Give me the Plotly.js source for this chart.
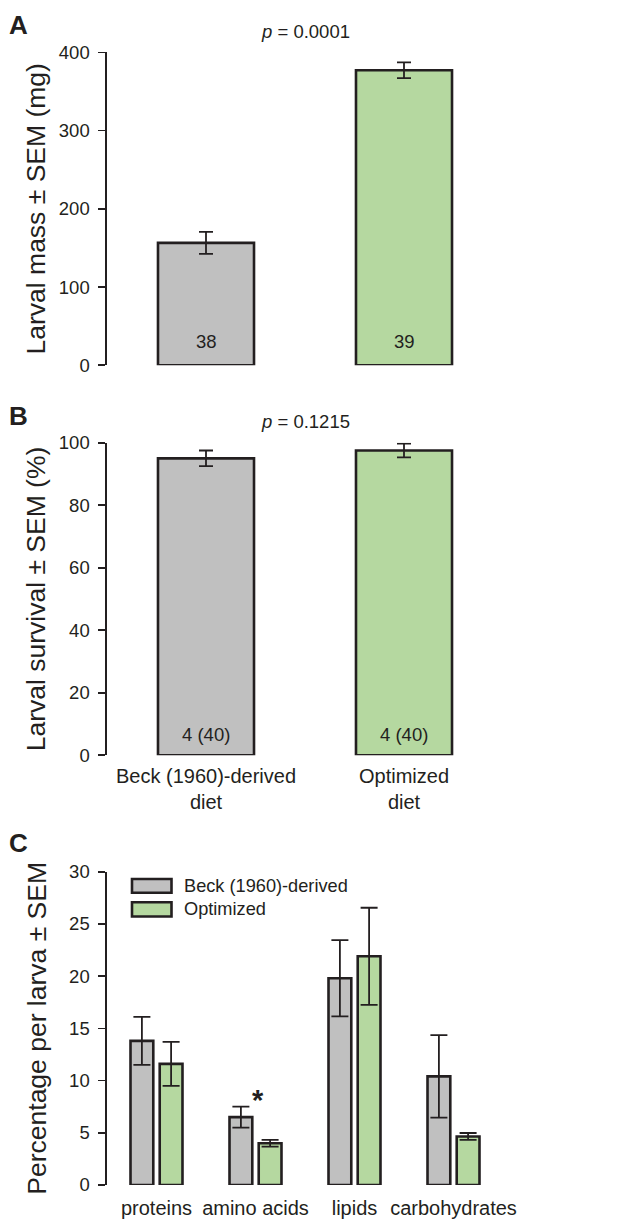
<!DOCTYPE html>
<html>
<head>
<meta charset="utf-8">
<script src="https://cdn.plot.ly/plotly-3.0.1.min.js"></script>
<style>
  html, body { margin: 0; padding: 0; background: #ffffff; }
  #fig { width: 619px; height: 1220px; }
</style>
</head>
<body>
<div id="fig"></div>
<script>
// Diet groups (panels A and B)
const dietGroups = ['Beck (1960)-derived<br>diet', 'Optimized<br>diet'];

// A: larval mass (mg)
const massMean = [156.5, 377];
const massSem = [14, 10];
const massN = ['38', '39'];
const massP = '0.0001';

// B: larval survival (%)
const survMean = [95.0, 97.5];
const survSem = [2.5, 2.2];
const survN = ['4 (40)', '4 (40)'];
const survP = '0.1215';

// C: body composition, percentage per larva
const nutrients = ['proteins', 'amino acids', 'lipids', 'carbohydrates'];
const seriesNames = ['Beck (1960)-derived', 'Optimized'];
const beckPct = [13.8, 6.5, 19.8, 10.4];
const beckSem = [2.3, 1.0, 3.65, 3.95];
const optPct = [11.6, 4.0, 21.9, 4.65];
const optSem = [2.1, 0.33, 4.65, 0.33];
const significant = ['amino acids'];

const INK = '#231f20';
const GRAY = '#c0c0c0';
const GREEN = '#b5d8a0';
const FONT = 'Liberation Sans, Arial, Helvetica, sans-serif';

const PAGE_W = 619, PAGE_H = 1220;
const PLOT_L = 107, PLOT_R = 503;
const px2x = px => (px - PLOT_L) / (PLOT_R - PLOT_L);
const px2y = py => 1 - py / PAGE_H;

function errBar(arr, w) {
  return { type: 'data', array: arr, visible: true, color: INK, thickness: 1.8, width: w };
}

const traces = [
  {
    type: 'bar', x: dietGroups, y: massMean, xaxis: 'x', yaxis: 'y',
    width: 0.485,
    marker: { color: [GRAY, GREEN], line: { color: INK, width: 2.6 } },
    error_y: errBar(massSem, 7), hoverinfo: 'skip', showlegend: false
  },
  {
    type: 'bar', x: dietGroups, y: survMean, xaxis: 'x2', yaxis: 'y2',
    width: 0.485,
    marker: { color: [GRAY, GREEN], line: { color: INK, width: 2.6 } },
    error_y: errBar(survSem, 7), hoverinfo: 'skip', showlegend: false
  },
  {
    type: 'bar', name: seriesNames[0], x: nutrients, y: beckPct, xaxis: 'x3', yaxis: 'y3',
    marker: { color: GRAY, line: { color: INK, width: 2.6 } },
    error_y: errBar(beckSem, 8.5), hoverinfo: 'skip', showlegend: false
  },
  {
    type: 'bar', name: seriesNames[1], x: nutrients, y: optPct, xaxis: 'x3', yaxis: 'y3',
    marker: { color: GREEN, line: { color: INK, width: 2.6 } },
    error_y: errBar(optSem, 8.5), hoverinfo: 'skip', showlegend: false
  }
];

function yAxis(domain, range, dtick, title, standoff, anchor) {
  return {
    domain: domain, range: range, dtick: dtick, tick0: 0, anchor: anchor,
    showgrid: false, zeroline: false, showline: true,
    linecolor: INK, linewidth: 1.6,
    ticks: 'outside', ticklen: 7, tickwidth: 1.6, tickcolor: INK,
    ticklabelstandoff: 5,
    tickfont: { family: FONT, size: 18.5, color: INK },
    title: { text: title, font: { family: FONT, size: 26.5, color: INK }, standoff: standoff },
    fixedrange: true
  };
}

function xAxis(range, anchor, showLabels, labelGap) {
  return {
    domain: [0, 1], range: range, anchor: anchor, type: 'category',
    showgrid: false, zeroline: false, showline: false, ticks: '',
    showticklabels: showLabels, ticklabelstandoff: labelGap,
    tickfont: { family: FONT, size: 20, color: INK },
    fixedrange: true
  };
}

const annotations = [];

// panel letters
[['A', 25], ['B', 416.5], ['C', 843]].forEach(([t, py]) => {
  annotations.push({
    text: '<b>' + t + '</b>', xref: 'paper', yref: 'paper',
    x: px2x(7), y: px2y(py), xanchor: 'left', yanchor: 'middle', showarrow: false,
    font: { family: FONT, size: 26, color: INK }
  });
});

// p-values
[[massP, 'x', 31], [survP, 'x2', 421.7]].forEach(([p, xr, py]) => {
  annotations.push({
    text: '<i>p</i> = ' + p, xref: xr, yref: 'paper', x: 0.5, y: px2y(py),
    xanchor: 'center', yanchor: 'middle', showarrow: false,
    font: { family: FONT, size: 18.5, color: INK }
  });
});

// sample sizes inside the bars
massN.forEach((n, i) => annotations.push({
  text: n, xref: 'x', yref: 'y', x: dietGroups[i], y: 0, yshift: 24,
  xanchor: 'center', yanchor: 'middle', showarrow: false,
  font: { family: FONT, size: 18.5, color: INK }
}));
survN.forEach((n, i) => annotations.push({
  text: n, xref: 'x2', yref: 'y2', x: dietGroups[i], y: 0, yshift: 21,
  xanchor: 'center', yanchor: 'middle', showarrow: false,
  font: { family: FONT, size: 18.5, color: INK }
}));

// significance marker
significant.forEach(cat => {
  const i = nutrients.indexOf(cat);
  const top = Math.max(beckPct[i] + beckSem[i], optPct[i] + optSem[i]);
  annotations.push({
    text: '<b>*</b>', xref: 'x3', yref: 'y3', x: cat, y: top, yshift: 7, xshift: 2,
    xanchor: 'center', yanchor: 'middle', showarrow: false,
    font: { family: FONT, size: 29, color: INK }
  });
});

// legend for panel C
const legendRows = [
  { name: seriesNames[0], color: GRAY, y0: 879, y1: 892.7, ty: 885.7 },
  { name: seriesNames[1], color: GREEN, y0: 902.3, y1: 916.5, ty: 909 }
];
const shapes = [];
legendRows.forEach(r => {
  shapes.push({
    type: 'rect', xref: 'paper', yref: 'paper',
    x0: px2x(132), x1: px2x(171.5), y0: px2y(r.y1), y1: px2y(r.y0),
    fillcolor: r.color, line: { color: INK, width: 2.6 }
  });
  annotations.push({
    text: r.name, xref: 'paper', yref: 'paper', x: px2x(182), y: px2y(r.ty),
    xanchor: 'left', yanchor: 'middle', showarrow: false,
    font: { family: FONT, size: 18.2, color: INK }
  });
});

const layout = {
  width: PAGE_W, height: PAGE_H,
  margin: { l: PLOT_L, r: PAGE_W - PLOT_R, t: 0, b: 0, pad: 0 },
  paper_bgcolor: '#ffffff', plot_bgcolor: 'rgba(0,0,0,0)',
  barmode: 'group', bargap: 0.41, bargroupgap: 0.22,
  showlegend: false,
  font: { family: FONT, color: INK },
  xaxis: xAxis([-0.5, 1.5], 'y', false, 0),
  yaxis: yAxis([px2y(365.3), px2y(52.3)], [0, 400], 100, 'Larval mass ± SEM (mg)', 5, 'x'),
  xaxis2: xAxis([-0.5, 1.5], 'y2', true, 7),
  yaxis2: yAxis([px2y(755.3), px2y(442.7)], [0, 100], 20, 'Larval survival ± SEM (%)', 5, 'x2'),
  xaxis3: xAxis([-0.5, 3.5], 'y3', true, 9),
  yaxis3: yAxis([px2y(1185), px2y(871.7)], [0, 30], 5, 'Percentage per larva ± SEM', 15, 'x3'),
  annotations: annotations,
  shapes: shapes
};

Plotly.newPlot('fig', traces, layout, { staticPlot: true, displayModeBar: false });
</script>
</body>
</html>
